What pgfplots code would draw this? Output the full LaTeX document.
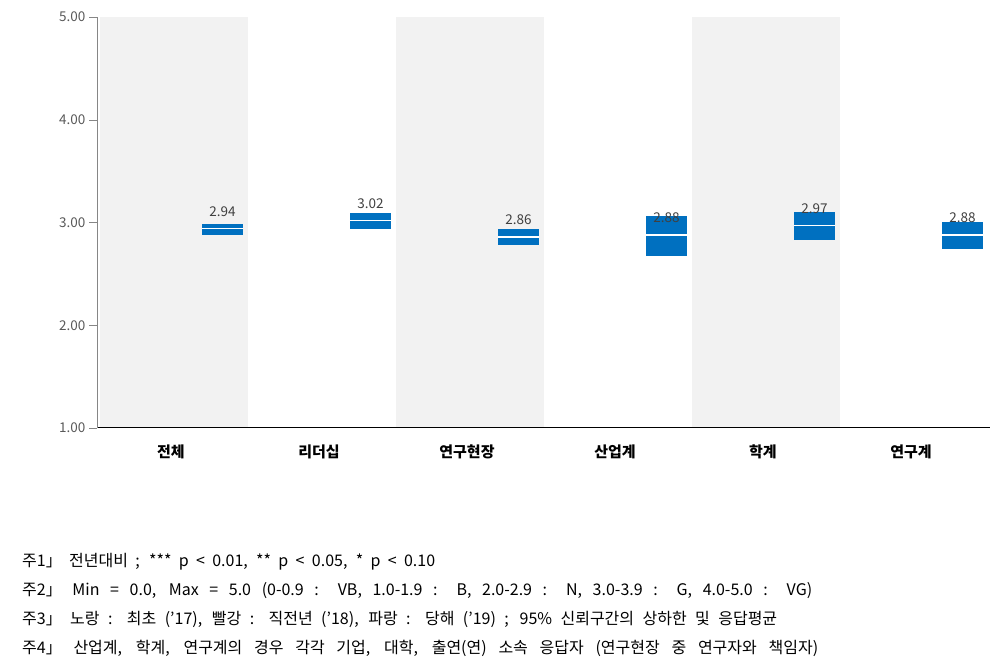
\documentclass[border=0pt]{standalone}
\usepackage{fontspec}
\setmainfont{Noto Sans CJK KR}
\usepackage{pgfplots}
\pgfplotsset{compat=1.18}
\usepackage{pgfplotstable}
\definecolor{boxblue}{RGB}{0,112,192}
\definecolor{bandgray}{RGB}{242,242,242}
\definecolor{ticktext}{RGB}{89,89,89}
\definecolor{labeltext}{RGB}{64,64,64}
\definecolor{axisgray}{RGB}{134,134,134}
\pgfplotstableread{
x mean lo hi
0 2.94 2.88 2.99
1 3.02 2.94 3.09
2 2.86 2.78 2.94
3 2.88 2.67 3.06
4 2.97 2.83 3.10
5 2.88 2.74 3.00
}\ci
\begin{document}
\begin{tikzpicture}
\path (0,0) rectangle (1004pt,666pt);
\begin{axis}[
  at={(97pt,238pt)}, anchor=south west,
  width=893pt, height=411pt, scale only axis,
  xmin=-0.5, xmax=5.534, ymin=1, ymax=5,
  axis x line*=bottom, axis y line*=left,
  x axis line style={black, line width=1pt, -},
  y axis line style={axisgray, -},
  xtick={0,...,5},
  xticklabels={전체,리더십,연구현장,산업계,학계,연구계},
  xtick style={draw=none},
  ytick={1,2,3,4,5},
  ytick style={axisgray},
  tick align=outside, major tick length=8pt,
  yticklabel style={font=\fontsize{13.5}{15}\selectfont, text=ticktext,
    /pgf/number format/.cd, fixed, fixed zerofill, precision=2, assume math mode=true},
  xticklabel style={font=\fontsize{15}{18}\selectfont\bfseries, text=black, yshift=-5pt},
  axis on top,
]
\addplot[ycomb, draw=bandgray, line width=148pt, forget plot] coordinates {(0.02,5) (2.02,5) (4.02,5)};
\addplot[draw=none, mark=none,
  error bars/.cd, y dir=both, y explicit, error mark=none,
  error bar style={draw=boxblue, line width=41pt, solid}]
  table[x expr=\thisrow{x}+0.348, y=mean,
        y error plus expr=\thisrow{hi}-\thisrow{mean},
        y error minus expr=\thisrow{mean}-\thisrow{lo}] {\ci};
\addplot[only marks, mark=-, mark size=20.5pt, mark options={draw=white, line width=1.5pt},
  nodes near coords,
  nodes near coords style={yshift=17pt, anchor=center, text=labeltext,
    font=\fontsize{13.5}{15}\selectfont,
    /pgf/number format/.cd, fixed, fixed zerofill, precision=2, assume math mode=true}]
  table[x expr=\thisrow{x}+0.348, y=mean] {\ci};
\end{axis}
\begin{scope}[every node/.style={anchor=base west, inner sep=0pt, text=black, font=\fontsize{16}{18}\selectfont}]
\node at (22pt,99pt) {\hbox to 413pt{주1」 전년대비 ; *** p < 0.01, ** p < 0.05, * p < 0.10}};
\node at (22pt,70pt) {\hbox to 790pt{주2」 Min = 0.0, Max = 5.0 (0-0.9 : VB, 1.0-1.9 : B, 2.0-2.9 : N, 3.0-3.9 : G, 4.0-5.0 : VG)}};
\node at (22pt,41pt) {\hbox to 755pt{주3」 노랑 : 최초 ('17), 빨강 : 직전년 ('18), 파랑 : 당해 ('19) ; 95\% 신뢰구간의 상하한 및 응답평균}};
\node at (22pt,12pt) {\hbox to 796pt{주4」 산업계, 학계, 연구계의 경우 각각 기업, 대학, 출연(연) 소속 응답자 (연구현장 중 연구자와 책임자)}};
\end{scope}
\end{tikzpicture}
\end{document}
